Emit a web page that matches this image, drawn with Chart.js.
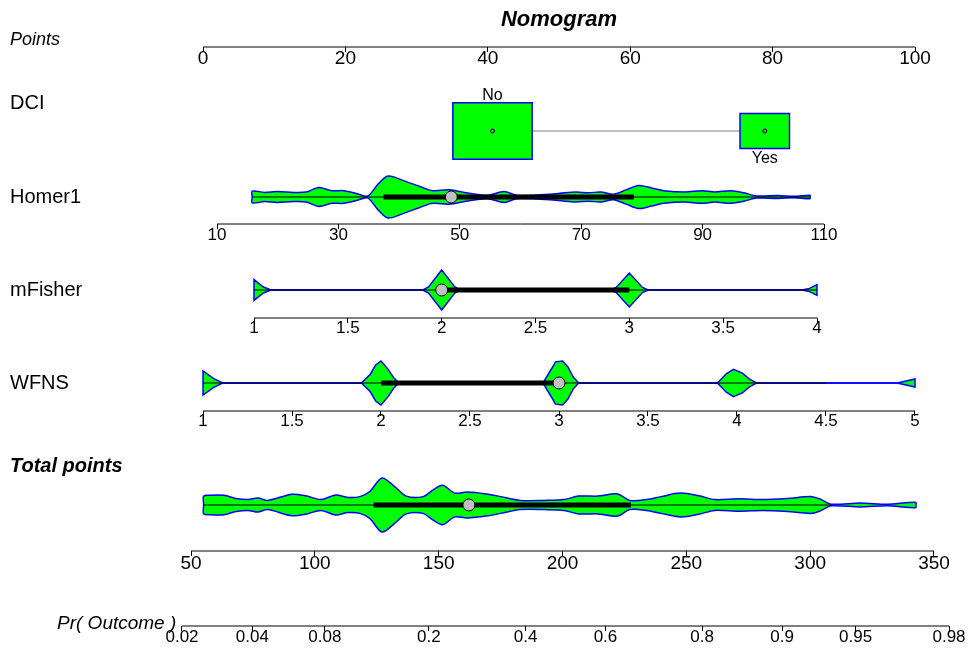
<!DOCTYPE html>
<html><head><meta charset="utf-8">
<script src="https://cdn.jsdelivr.net/npm/chart.js@4/dist/chart.umd.min.js"></script>
<style>html,body{margin:0;padding:0;background:#fff}#wrap{width:969px;height:648px;position:relative}</style>
</head><body><div id="wrap"><canvas id="c"></canvas></div>
<script>
// ================= DATA =================
const pointsTicks = [0, 20, 40, 60, 80, 100];

const dciLevels = ['No', 'Yes'];
const dciPoints = [40.66, 78.9];
const dciFreq = [0.72, 0.28];

const homerTicks = [10, 30, 50, 70, 90, 110];
const homerX = [15.8,17.8,19.9,22.6,24.7,26.8,28.9,30.9,33.0,34.8,36.5,38.2,40.7,43.4,45.5,48.3,51.0,54.5,57.3,59.4,62.8,66.3,69.1,71.2,73.2,75.3,77.4,79.5,81.6,83.6,87.1,89.9,92.0,94.7,96.8,98.9,102.4,105.1,107.7];
const homerW = [0.28,0.22,0.26,0.22,0.24,0.45,0.3,0.3,0.17,0.04,0.6,1.0,0.78,0.5,0.3,0.34,0.2,0.08,0.26,0.08,0.1,0.17,0.24,0.2,0.24,0.13,0.34,0.55,0.43,0.3,0.24,0.3,0.24,0.3,0.2,0.05,0.07,0.03,0.08];
const homerQ = [37.4, 48.6, 78.7];
const homerWhisk = [15.8, 107.7];

const mfisherTicks = [1, 1.5, 2, 2.5, 3, 3.5, 4];
const mfisherX = [1,1.05,1.09,1.9,1.93,2,2.07,2.1,2.9,2.93,3,3.07,3.1,3.92,3.96,4];
const mfisherW = [0.52,0.15,0,0,0.15,1,0.15,0,0,0.13,0.85,0.13,0,0,0.08,0.27];
const mfisherQ = [2, 2, 3];
const mfisherWhisk = [1, 4];

const wfnsTicks = [1, 1.5, 2, 2.5, 3, 3.5, 4, 4.5, 5];
const wfnsX = [1,1.06,1.11,1.89,1.94,1.97,2,2.04,2.07,2.1,2.91,2.96,2.98,3.02,3.05,3.08,3.11,3.89,3.94,3.98,4.03,4.07,4.11,4.9,5];
const wfnsW = [0.55,0.2,0,0,0.4,0.82,1,0.62,0.25,0,0,0.67,0.96,1,0.73,0.27,0,0,0.42,0.62,0.45,0.18,0,0,0.18];
const wfnsQ = [2, 3, 3];
const wfnsWhisk = [1, 4.5];

const totalTicks = [50, 100, 150, 200, 250, 300, 350];
const totalX = [55.1,57.5,63.3,68.2,73.1,77,81,90.8,96.7,102.5,108.4,113.3,118.2,122.2,127.1,132,136.9,143.7,147.6,151.6,156.5,161.4,169.2,175.1,182.9,192.7,200.6,206.5,214.3,222.2,227.1,234,239.8,247.6,255.5,261.4,271.2,281,290.8,300.6,304.5,308.4,320.2,331.2,339.8,342.7];
const totalW = [0.33,0.36,0.36,0.24,0.2,0.26,0.17,0.4,0.33,0.2,0.37,0.28,0.31,0.5,1.0,0.7,0.33,0.31,0.55,0.73,0.44,0.48,0.41,0.31,0.17,0.17,0.2,0.33,0.33,0.41,0.17,0.2,0.31,0.44,0.33,0.2,0.23,0.2,0.24,0.31,0.2,0.03,0.07,0.03,0.09,0.09];
const totalQ = [123.7, 162.2, 227.6];
const totalWhisk = [55.1, 308.4];

const probTicks = [0.02, 0.04, 0.08, 0.2, 0.4, 0.6, 0.8, 0.9, 0.95, 0.98];

// ================= LAYOUT / STYLE =================
const W = 969, H = 648;
const FONT = '"Liberation Sans", Arial, Helvetica, sans-serif';
const logit = p => Math.log(p / (1 - p));
const GREEN = '#00FF00', BLUE = '#0000FF';

const axisDefs = {
  xPts:    {v0: 0,  p0: 203, v1: 100, p1: 915, y: 47,  size: 19, pad: -5, vals: pointsTicks,  labels: pointsTicks.map(String)},
  xHomer:  {v0: 10, p0: 217, v1: 110, p1: 824, y: 224, size: 17, pad: -4, vals: homerTicks,   labels: homerTicks.map(String)},
  xFisher: {v0: 1,  p0: 254, v1: 4,   p1: 817, y: 318, size: 17, pad: -5, vals: mfisherTicks, labels: mfisherTicks.map(String)},
  xWfns:   {v0: 1,  p0: 203, v1: 5,   p1: 915, y: 411, size: 17, pad: -5, vals: wfnsTicks,    labels: wfnsTicks.map(String)},
  xTotal:  {v0: 50, p0: 191, v1: 350, p1: 934, y: 551, size: 19, pad: -4, vals: totalTicks,   labels: totalTicks.map(String)},
  xProb:   {v0: logit(0.02), p0: 182, v1: logit(0.98), p1: 949, y: 626, size: 17, pad: -4, vals: probTicks.map(logit), labels: probTicks.map(String)}
};
const rows = {dci: 131, homer: 197, fisher: 290, wfns: 383, total: 505};
const halfMax = {homer: 21, fisher: 20, wfns: 22, total: 27};

const zeroPad = s => { s.paddingLeft = 0; s.paddingRight = 0; s.paddingTop = 0; s.paddingBottom = 0; };
const scales = {
  y: {type: 'linear', min: 0, max: H, reverse: true, display: false}
};
function setRanges(area) {
  scales.y.min = area.top; scales.y.max = area.bottom;
  for (const id in axisDefs) {
    const a = axisDefs[id];
    scales[id].min = a.v0 - (a.p0 - area.left) / a.k;
    scales[id].max = a.v0 + (area.right - a.p0) / a.k;
  }
}
for (const id in axisDefs) {
  const a = axisDefs[id];
  a.k = (a.p1 - a.p0) / (a.v1 - a.v0);
  scales[id] = {
    type: 'linear',
    position: {y: a.y},
    afterBuildTicks: s => { s.ticks = a.vals.map(v => ({value: v})); },
    afterFit: zeroPad,
    grid: {display: true, drawOnChartArea: false, drawTicks: true, tickLength: 5, color: '#000', lineWidth: 1},
    border: {display: false},
    ticks: {autoSkip: false, maxRotation: 0, minRotation: 0, padding: a.pad, color: '#000',
            font: {family: FONT, size: a.size}, callback: (v, i) => a.labels[i]}
  };
}
setRanges({left: 0, right: W, top: 0, bottom: H});

const datasets = [];
function line(xId, pts, color, width, order, extra) {
  datasets.push(Object.assign({type: 'line', xAxisID: xId, yAxisID: 'y', data: pts,
    borderColor: color, borderWidth: width, pointRadius: 0, fill: false, tension: 0, order: order,
    borderCapStyle: 'butt'}, extra || {}));
}
function shape(xId, rowY, xs, ws, maxHalf, tension, order) {
  const up = [{x: xs[0], y: rowY}], lo = [{x: xs[0], y: rowY}];
  xs.forEach((x, i) => {
    up.push({x: x, y: rowY - ws[i] * maxHalf});
    lo.push({x: x, y: rowY + ws[i] * maxHalf});
  });
  up.push({x: xs[xs.length - 1], y: rowY});
  lo.push({x: xs[xs.length - 1], y: rowY});
  [up, lo].forEach(d => line(xId, d, BLUE, 1.5, order,
    {backgroundColor: GREEN, fill: {value: rowY}, tension: tension}));
}
function summary(xId, rowY, whisk, q) {
  line(xId, [{x: whisk[0], y: rowY}, {x: whisk[1], y: rowY}], '#000', 1, 6);
  line(xId, [{x: q[0], y: rowY}, {x: q[2], y: rowY}], '#000', 5, 5);
  datasets.push({type: 'line', xAxisID: xId, yAxisID: 'y', data: [{x: q[1], y: rowY}], showLine: false,
    pointRadius: 6, pointBackgroundColor: '#C0C0C0', pointBorderColor: '#000', pointBorderWidth: 1, order: 4});
}

// axis lines (from first to last tick, through each scale)
for (const id in axisDefs) {
  const a = axisDefs[id];
  line(id, [{x: a.vals[0], y: a.y}, {x: a.vals[a.vals.length - 1], y: a.y}], '#000', 1, 30);
}

// DCI
line('xPts', dciPoints.map(v => ({x: v, y: rows.dci})), '#BEBEBE', 2, 20);
const dciBox = dciFreq.map(f => { const w = 93.5 * Math.sqrt(f); return {w: w, h: w / 1.41}; });
dciPoints.forEach((c, i) => {
  const hw = dciBox[i].w / 2 / axisDefs.xPts.k;
  shape('xPts', rows.dci, [c - hw, c + hw], [1, 1], dciBox[i].h / 2, 0, 10);
});
datasets.push({type: 'line', xAxisID: 'xPts', yAxisID: 'y', data: dciPoints.map(v => ({x: v, y: rows.dci})),
  showLine: false, pointRadius: 2, pointBackgroundColor: '#8a8a8a', pointBorderColor: '#000', pointBorderWidth: 1, order: 3});

// violins
shape('xHomer', rows.homer, homerX, homerW, halfMax.homer, 0.3, 10);
summary('xHomer', rows.homer, homerWhisk, homerQ);
shape('xFisher', rows.fisher, mfisherX, mfisherW, halfMax.fisher, 0, 10);
summary('xFisher', rows.fisher, mfisherWhisk, mfisherQ);
shape('xWfns', rows.wfns, wfnsX, wfnsW, halfMax.wfns, 0, 10);
summary('xWfns', rows.wfns, wfnsWhisk, wfnsQ);
shape('xTotal', rows.total, totalX, totalW, halfMax.total, 0.3, 10);
summary('xTotal', rows.total, totalWhisk, totalQ);

// texts
const textPlugin = {
  id: 'texts',
  afterDraw(chart) {
    const ctx = chart.ctx, ys = chart.scales.y, xp = chart.scales.xPts;
    ctx.save();
    ctx.fillStyle = '#000';
    ctx.textBaseline = 'middle';
    const put = (t, x, y, font, align) => { ctx.font = font + ' ' + FONT; ctx.textAlign = align || 'left'; ctx.fillText(t, x, ys.getPixelForValue(y)); };
    put('Nomogram', xp.getPixelForValue(50), 20, 'italic bold 22px', 'center');
    put('Points', 10, 40, 'italic 18px');
    put('DCI', 10, 103, '20px');
    put('Homer1', 10, rows.homer, '20px');
    put('mFisher', 10, rows.fisher, '20px');
    put('WFNS', 10, rows.wfns, '20px');
    put('Total points', 10, 466, 'italic bold 20px');
    put('Pr( Outcome )', 57, 624, 'italic 19px');
    dciLevels.forEach((lab, i) => {
      const x = xp.getPixelForValue(dciPoints[i]);
      const above = i % 2 === 0;
      const off = dciBox[i].h / 2 + (above ? 7 : 10);
      put(lab, x, above ? rows.dci - off : rows.dci + off, '16px', 'center');
    });
    ctx.restore();
  }
};

const chart = new Chart(document.getElementById('c'), {
  data: {datasets: datasets},
  options: {
    responsive: true, maintainAspectRatio: false, animation: false, events: [],
    layout: {padding: 0},
    scales: scales,
    plugins: {legend: {display: false}, tooltip: {enabled: false}, title: {display: false}}
  },
  plugins: [textPlugin]
});
// second pass: align value ranges to the real chart area so pixels match the reference
for (let pass = 0; pass < 2; pass++) {
  const ca = chart.chartArea;
  setRanges(ca);
  for (const id in scales) { chart.options.scales[id].min = scales[id].min; chart.options.scales[id].max = scales[id].max; }
  chart.update('none');
}
</script></body></html>
